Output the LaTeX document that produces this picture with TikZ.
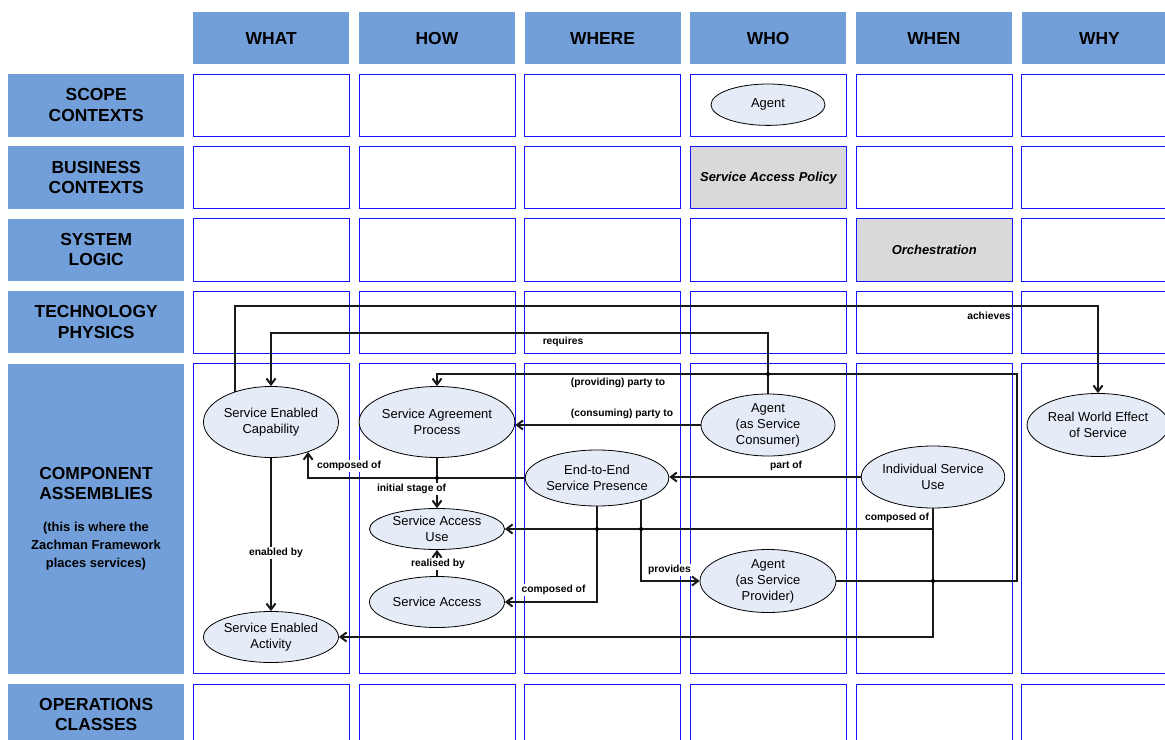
\documentclass[tikz,border=0pt]{standalone}
\usepackage{fontspec}
\setmainfont{Liberation Sans}
\usetikzlibrary{arrows.meta,shapes.geometric,calc}
\pgfdeclarelayer{grid}
\pgfdeclarelayer{wires}
\pgfsetlayers{grid,wires,main}
\definecolor{hdrblue}{RGB}{114,159,217}
\definecolor{cellblue}{RGB}{20,20,255}
\definecolor{ellfill}{RGB}{229,236,247}
\definecolor{notegrey}{RGB}{217,217,217}

\begin{document}
\begin{tikzpicture}[x=1bp,y=-1bp,
  >={Straight Barb[length=6bp,width=9bp]},
  hdr/.style={fill=hdrblue, draw=none, inner sep=0, minimum width=156bp,
    minimum height=51.7bp, anchor=north west, align=center,
    font=\fontsize{17.5}{20}\selectfont\bfseries},
  rowhdr/.style={fill=hdrblue, draw=none, inner sep=0, minimum width=176bp,
    anchor=north west, align=center, font=\fontsize{17.5}{20.5}\selectfont\bfseries},
  cell/.style={draw=cellblue, line width=1.1bp, fill=white, inner sep=0,
    minimum width=156bp, anchor=north west},
  greycell/.style={cell, fill=notegrey, align=center,
    font=\fontsize{13}{16}\selectfont\bfseries\itshape},
  ell/.style={ellipse, draw=black, line width=0.8bp, fill=ellfill, inner sep=0,
    align=center, font=\fontsize{13}{16}\selectfont},
  wire/.style={line width=2bp, draw=black!90},
  lab/.style={fill=white, inner sep=1bp, font=\fontsize{10.3}{12}\selectfont\bfseries},
  hop/.style={circle, fill=black, inner sep=0, minimum size=4bp}
]
\useasboundingbox (0,0) rectangle (1165,740);

% ---------- grid: column headers, row headers, cells ----------
\begin{pgfonlayer}{grid}
\fill[white] (0,0) rectangle (1165,740);
\node[rowhdr, minimum height=62.6bp] (rh1) at (8,73.7) {SCOPE\\CONTEXTS};
\node[rowhdr, minimum height=62bp]   (rh2) at (8,146.3) {BUSINESS\\CONTEXTS};
\node[rowhdr, minimum height=62.4bp] (rh3) at (8,218.3) {SYSTEM\\LOGIC};
\node[rowhdr, minimum height=62.2bp] (rh4) at (8,290.5) {TECHNOLOGY\\PHYSICS};
\node[rowhdr, minimum height=310bp]  (rh5) at (8,363.3) {};
\node[rowhdr, minimum height=61bp]   (rh6) at (8,684) {OPERATIONS\\CLASSES};
\foreach \c/\cx/\ct in {1/193/WHAT, 2/358.7/HOW, 3/524.3/WHERE,
                        4/690/WHO, 5/855.7/WHEN, 6/1021.3/WHY}{
  \node[hdr] (h\c) at (\cx,12) {\ct};
  \foreach \r/\ry/\rh in {1/73.7/62.6, 2/146.3/62, 3/218.3/62.4,
                          4/290.5/62.2, 5/363.3/310, 6/684/70}{
    \node[cell, minimum height=\rh bp] (c\r-\c) at (\cx,\ry) {};
  }
}
\node[greycell, minimum height=62bp]   (policy) at (690,146.3) {Service Access Policy};
\node[greycell, minimum height=62.4bp] (orch)   at (855.7,218.3) {Orchestration};
\end{pgfonlayer}

\node[font=\fontsize{17.5}{20.5}\selectfont\bfseries, align=center] (comptitle)
  at (96,483.5) {COMPONENT\\ASSEMBLIES};
\node[font=\fontsize{13}{18}\selectfont\bfseries, align=center] (compnote)
  at (96,546) {(this is where the\\Zachman Framework\\places services)};

% ---------- elements ----------
\node[ell, minimum width=114bp, minimum height=41.4bp] (agent) at (768,104.7) {Agent};
\node[ell, minimum width=135bp, minimum height=71bp] (cap) at (271,422) {Service Enabled\\Capability};
\node[ell, minimum width=135bp, minimum height=71bp] (sap) at (437,422) {Service Agreement\\Process};
\node[ell, minimum width=134bp, minimum height=62bp] (agc) at (768,425) {Agent\\(as Service\\Consumer)};
\node[ell, minimum width=134bp, minimum height=63bp] (rwe) at (1098,425) {Real World Effect\\of Service};
\node[ell, minimum width=132bp, minimum height=56bp] (e2e) at (597,478) {End-to-End\\Service Presence};
\node[ell, minimum width=135bp, minimum height=62bp] (isu) at (933,477) {Individual Service\\Use};
\node[ell, minimum width=135bp, minimum height=41bp] (sau) at (437,529) {Service Access\\Use};
\node[ell, minimum width=135bp, minimum height=51bp] (sa) at (437,602) {Service Access};
\node[ell, minimum width=136bp, minimum height=63bp] (agp) at (768,581) {Agent\\(as Service\\Provider)};
\node[ell, minimum width=135bp, minimum height=51bp] (sea) at (271,637) {Service Enabled\\Activity};

% ---------- connectors ----------
\coordinate (achY) at (0,306);
\coordinate (reqY) at (0,333);
\coordinate (provcorner) at (1017,374);
\begin{pgfonlayer}{wires}
\draw[wire,->] (cap.140.2) -- (cap.140.2 |- achY) -| (rwe.north);
\draw[wire,->] (agc.north) -- (agc.north |- reqY) -| (cap.north);
\draw[wire,->] (agp.east) -| (provcorner) -| (sap.north);
\draw[wire,->] (agc.west) -- (agc.west -| sap.east);
\draw[wire,->] (e2e.west) -| (cap.-39.8);
\draw[wire,->] (sap.south) -- (sau.north);
\draw[wire,->] (sa.north) -- (sau.south);
\draw[wire,->] (cap.south) -- (sea.north);
\draw[wire,->] (isu.west) -- (isu.west -| e2e.east);
\draw[wire,->] (isu.south) |- (sau.east);
\draw[wire,->] (isu.south) |- (sea.east);
\draw[wire,->] (e2e.south) |- (sa.east);
\draw[wire,->] (e2e.-27.2) |- (agp.west);
\end{pgfonlayer}

% line hops where wires cross
\node[hop] (hop1) at (agc.north |- provcorner) {};
\node[hop] (hop2) at (sap.south |- e2e.west) {};
\node[hop] (hop3) at (e2e.south |- sau.east) {};
\node[hop] (hop4) at (e2e.-27.2 |- sau.east) {};
\node[hop] (hop5) at (isu.south |- agp.east) {};

% ---------- connector labels ----------
\node[lab] (lach)  at (989,316) {achieves};
\node[lab] (lreq)  at (563,342) {requires};
\node[lab] (lprov) at (618,383) {(providing) party to};
\node[lab] (lcons) at (622,414) {(consuming) party to};
\node[lab] (lcmp1) at (349,466) {composed of};
\node[lab] (lpart) at (786,466) {part of};
\node[lab] (linit) at (411.5,489) {initial stage of};
\node[lab] (lcmp2) at (897,518) {composed of};
\node[lab] (lenab) at (276,553) {enabled by};
\node[lab] (lreal) at (438,564) {realised by};
\node[lab] (lprvd) at (669.5,570) {provides};
\node[lab] (lcmp3) at (553.5,590) {composed of};
\end{tikzpicture}
\end{document}
